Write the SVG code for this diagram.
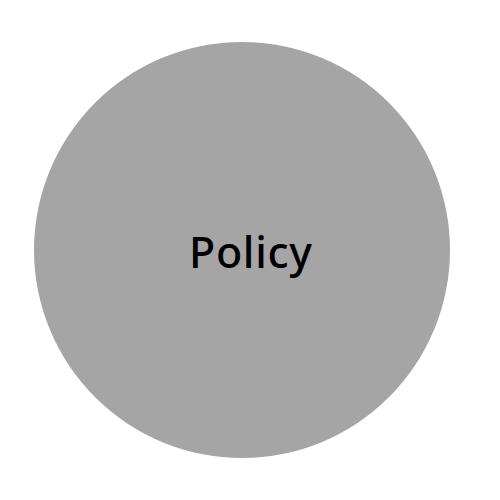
<svg xmlns="http://www.w3.org/2000/svg" width="500" height="500" viewBox="0 0 500 500">
<style>
.node{fill:#a5a5a5;}
.label{font-family:"Noto Sans","Open Sans",sans-serif;font-size:43px;font-weight:500;fill:#000;text-anchor:middle;}
</style>
<rect width="500" height="500" fill="#fff"/>
<g id="connectors"></g>
<g id="policy">
<circle class="node" cx="242" cy="250" r="208"/>
<text class="label" x="250.5" y="268" textLength="123" lengthAdjust="spacing">Policy</text>
</g>
</svg>
